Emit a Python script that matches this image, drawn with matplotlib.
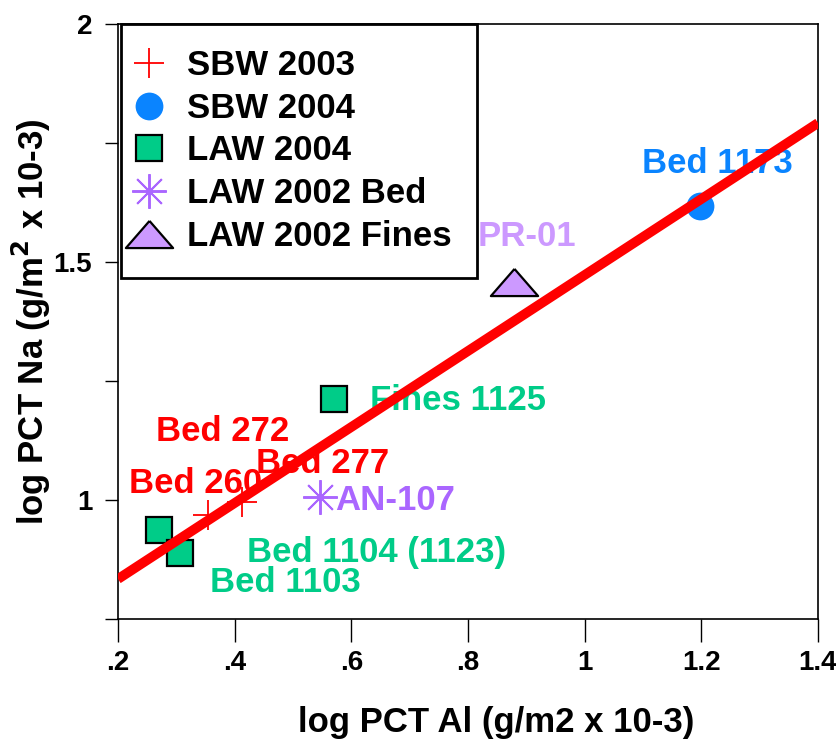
import matplotlib
matplotlib.use("Agg")
import matplotlib.pyplot as plt

plt.rcParams['font.family'] = ['Liberation Sans', 'DejaVu Sans']
plt.rcParams['font.weight'] = 'bold'

# Measured samples (log PCT Al, log PCT Na)
sbw2003_x = [0.354, 0.413]
sbw2003_y = [0.968, 0.996]
sbw2004_x = [1.198]
sbw2004_y = [1.618]
law2004_x = [0.271, 0.306, 0.570]
law2004_y = [0.937, 0.889, 1.213]
law2002bed_x = [0.547]
law2002bed_y = [1.006]
law2002fines_x = [0.878]
law2002fines_y = [1.459]

# Linear fit endpoints
fit_x = [0.2, 1.4]
fit_y = [0.834, 1.792]

# Sample annotations: (text, x, y, colour)
annotations = [
    ("Bed 1173", 1.098, 1.686, "#0a84ff"),
    ("PR-01", 0.816, 1.534, "#cc99ff"),
    ("Fines 1125", 0.632, 1.189, "#00cc88"),
    ("Bed 272", 0.266, 1.124, "#ff0000"),
    ("Bed 277", 0.437, 1.057, "#ff0000"),
    ("Bed 260", 0.219, 1.015, "#ff0000"),
    ("AN-107", 0.572, 0.979, "#aa66ff"),
    ("Bed 1104 (1123)", 0.421, 0.870, "#00cc88"),
    ("Bed 1103", 0.358, 0.807, "#00cc88"),
]

x_ticks = [0.2, 0.4, 0.6, 0.8, 1.0, 1.2, 1.4]
x_ticklabels = [".2", ".4", ".6", ".8", "1", "1.2", "1.4"]
y_ticks = [0.75, 1.0, 1.25, 1.5, 1.75, 2.0]
y_ticklabels = ["", "1", "", "1.5", "", "2"]

fig = plt.figure(figsize=(8.37, 7.39), dpi=100)
ax = fig.add_axes([118 / 837, 120 / 739, 700 / 837, 595 / 739])

# flattened triangle marker
tri = [(0, 0.5), (-0.87, -0.5), (0.87, -0.5), (0, 0.5)]

ax.plot(sbw2003_x, sbw2003_y, linestyle='none', marker='+', markersize=21,
        markeredgewidth=1.3, color='#ff0000', label='SBW 2003', zorder=3)
ax.plot(sbw2004_x, sbw2004_y, linestyle='none', marker='o', markersize=20,
        color='#0a84ff', markeredgewidth=0, label='SBW 2004', zorder=3)
ax.plot(law2004_x, law2004_y, linestyle='none', marker='s', markersize=19,
        markerfacecolor='#00cc88', markeredgecolor='black', markeredgewidth=1.6,
        label='LAW 2004', zorder=3)
ax.plot(law2002bed_x, law2002bed_y, linestyle='none', marker=(8, 2, 0), markersize=25,
        markeredgewidth=1.4, color='#aa66ff', label='LAW 2002 Bed', zorder=3)
ax.plot(law2002fines_x, law2002fines_y, linestyle='none', marker=tri, markersize=34,
        markerfacecolor='#cc99ff', markeredgecolor='black', markeredgewidth=1.6,
        label='LAW 2002 Fines', zorder=3)

ax.plot(fit_x, fit_y, color='#ff0000', linewidth=7, solid_capstyle='butt', zorder=5)

for txt, tx, ty, col in annotations:
    ax.text(tx, ty, txt, color=col, fontsize=25, fontweight='bold',
            ha='left', va='baseline', zorder=4)

ax.set_xlim(0.2, 1.4)
ax.set_ylim(0.75, 2.0)
ax.set_xticks(x_ticks)
ax.set_xticklabels(x_ticklabels)
ax.set_yticks(y_ticks)
ax.set_yticklabels(y_ticklabels)
ax.tick_params(axis='x', direction='out', length=16.5, width=1, pad=6,
               labelsize=20)
ax.tick_params(axis='y', direction='out', length=9.5, width=1, pad=9,
               labelsize=20)
for lab in ax.get_xticklabels() + ax.get_yticklabels():
    lab.set_fontweight('bold')
for sp in ax.spines.values():
    sp.set_linewidth(1.2)

ax.set_xlabel("log PCT Al (g/m2 x 10-3)", fontsize=25, fontweight='bold')
ax.xaxis.set_label_coords(0.54, -0.174)
ax.xaxis.label.set_va('center')
ax.set_ylabel("log PCT Na (g/m$^\\mathbf{2}$ x 10-3)", fontsize=25, fontweight='bold')
ax.yaxis.set_label_coords(-0.123, 0.5)
ax.yaxis.label.set_va('center')

leg = ax.legend(loc='upper left', bbox_to_anchor=(0.004, 1.0), borderaxespad=0,
                numpoints=1, fontsize=25, frameon=True, fancybox=False,
                edgecolor='black', framealpha=1, borderpad=0.72,
                handlelength=0.2, handletextpad=1.0, labelspacing=0.28)
leg.get_frame().set_linewidth(2)
leg.set_zorder(3.5)
for t in leg.get_texts():
    t.set_fontweight('bold')

fig.savefig("out.png", dpi=100)
